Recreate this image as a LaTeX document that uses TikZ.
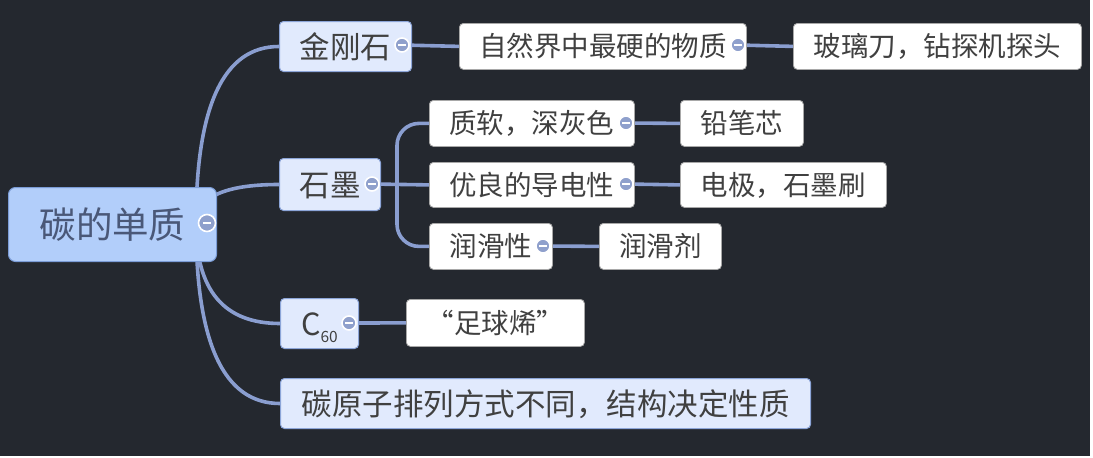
\documentclass[tikz,border=0pt]{standalone}
\usepackage{fontspec}
\newfontfamily\cjk{Noto Sans CJK SC}
\usetikzlibrary{calc}
\pgfdeclarelayer{back}
\pgfdeclarelayer{edges}
\pgfsetlayers{back,edges,main}
\definecolor{bgcol}{HTML}{24282F}
\definecolor{rootfill}{HTML}{B2CEFA}
\definecolor{rootdraw}{HTML}{7B9CD6}
\definecolor{roottext}{HTML}{4A5878}
\definecolor{mainfill}{HTML}{E1EAFD}
\definecolor{maindraw}{HTML}{8CA5D8}
\definecolor{subdraw}{HTML}{A8A8A8}
\definecolor{txt}{HTML}{404040}
\definecolor{edgecol}{HTML}{8A9ED0}
\definecolor{collfill}{HTML}{8FA0CC}
\tikzset{
  box/.style={draw, rounded corners=4pt, anchor=north west, inner sep=0pt, align=center},
  rootbox/.style={box, fill=rootfill, draw=rootdraw, line width=1pt, rounded corners=7pt, text=roottext,
    font=\cjk\fontsize{36.5}{40}\selectfont, text height=30pt, text depth=2.6pt},
  mainbox/.style={box, fill=mainfill, draw=maindraw, line width=1pt, text=txt,
    font=\cjk\fontsize{30.5}{34}\selectfont, text height=25.3pt, text depth=2.1pt},
  subbox/.style={box, fill=white, draw=subdraw, line width=0.8pt, text=txt,
    font=\cjk\fontsize{27.5}{30}\selectfont, text height=22.8pt, text depth=1.9pt},
  edge/.style={draw=edgecol, line width=3.6pt},
  coll/.style={circle, fill=collfill, draw=white, line width=1.6pt, minimum size=14pt, inner sep=0pt,
    path picture={\draw[white, line width=2.2pt] ([xshift=-3.8pt]path picture bounding box.center) -- ([xshift=3.8pt]path picture bounding box.center);}},
}
\begin{document}
\begin{tikzpicture}[x=1pt,y=-1pt]
\begin{pgfonlayer}{back}
\fill[white] (0,0) rectangle (1093,458);
\fill[bgcol] (0,0) rectangle (1090,456);
\end{pgfonlayer}
\useasboundingbox (0,0) rectangle (1093,458);

% nodes
\node[rootbox, minimum width=208pt, minimum height=74pt] (root) at (8,187) {碳的单质};
\node[mainbox, minimum width=132pt, minimum height=50pt] (n1) at (279,21) {金刚石};
\node[mainbox, minimum width=101pt, minimum height=52pt] (n2) at (279,158) {石墨};
\node[mainbox, minimum width=78pt, minimum height=50pt] (n3) at (280,298) {C\raisebox{-7pt}{\fontsize{15.5}{15.5}\selectfont 60}};
\node[mainbox, minimum width=530pt, minimum height=50pt] (n4) at (280,378) {碳原子排列方式不同，结构决定性质};

\node[subbox, minimum width=287pt, minimum height=46pt] (a1) at (459,23) {自然界中最硬的物质};
\node[subbox, minimum width=288pt, minimum height=46pt] (a2) at (793,23) {玻璃刀，钻探机探头};

\node[subbox, minimum width=205pt, minimum height=46pt] (g1) at (429,100) {质软，深灰色};
\node[subbox, minimum width=123pt, minimum height=46pt] (g1b) at (680,100) {铅笔芯};
\node[subbox, minimum width=205pt, minimum height=45pt] (g2) at (429,162) {优良的导电性};
\node[subbox, minimum width=206pt, minimum height=45pt] (g2b) at (680,162) {电极，石墨刷};
\node[subbox, minimum width=123pt, minimum height=46pt] (g3) at (429,223) {润滑性};
\node[subbox, minimum width=122pt, minimum height=46pt] (g3b) at (599,223) {润滑剂};

\node[subbox, minimum width=178pt, minimum height=47pt] (f1) at (406,299) {“足球烯”};

% collapse buttons
\node[coll, minimum size=17pt] (croot) at (207,223) {};
\node[coll] (cn1) at (402,45) {};
\node[coll] (cn2) at (372,184) {};
\node[coll] (cn3) at (349,323) {};
\node[coll] (ca1) at (738,45) {};
\node[coll] (cg1) at (626,123) {};
\node[coll] (cg2) at (626,184) {};
\node[coll] (cg3) at (543,246) {};

\coordinate (rc) at (196,224);
\coordinate (gb) at (397,184);

\begin{pgfonlayer}{edges}
\foreach \t in {n1,n2,n3,n4}{
  \draw[edge] (rc) .. controls ($(rc)!0.667!(rc |- \t.west)$) and ($(\t.west)!0.667!(rc |- \t.west)$) .. (\t.west);
}
\draw[edge] (cn1) -- (a1.west);
\draw[edge] (ca1) -- (a2.west);
\draw[edge] (cn2) -- (g2.west);
\draw[edge, rounded corners=22pt] (gb) |- (g1.west);
\draw[edge, rounded corners=22pt] (gb) |- (g3.west);
\draw[edge] (cg1) -- (g1b.west);
\draw[edge] (cg2) -- (g2b.west);
\draw[edge] (cg3) -- (g3b.west);
\draw[edge] (cn3) -- (f1.west);
\end{pgfonlayer}
\end{tikzpicture}
\end{document}
